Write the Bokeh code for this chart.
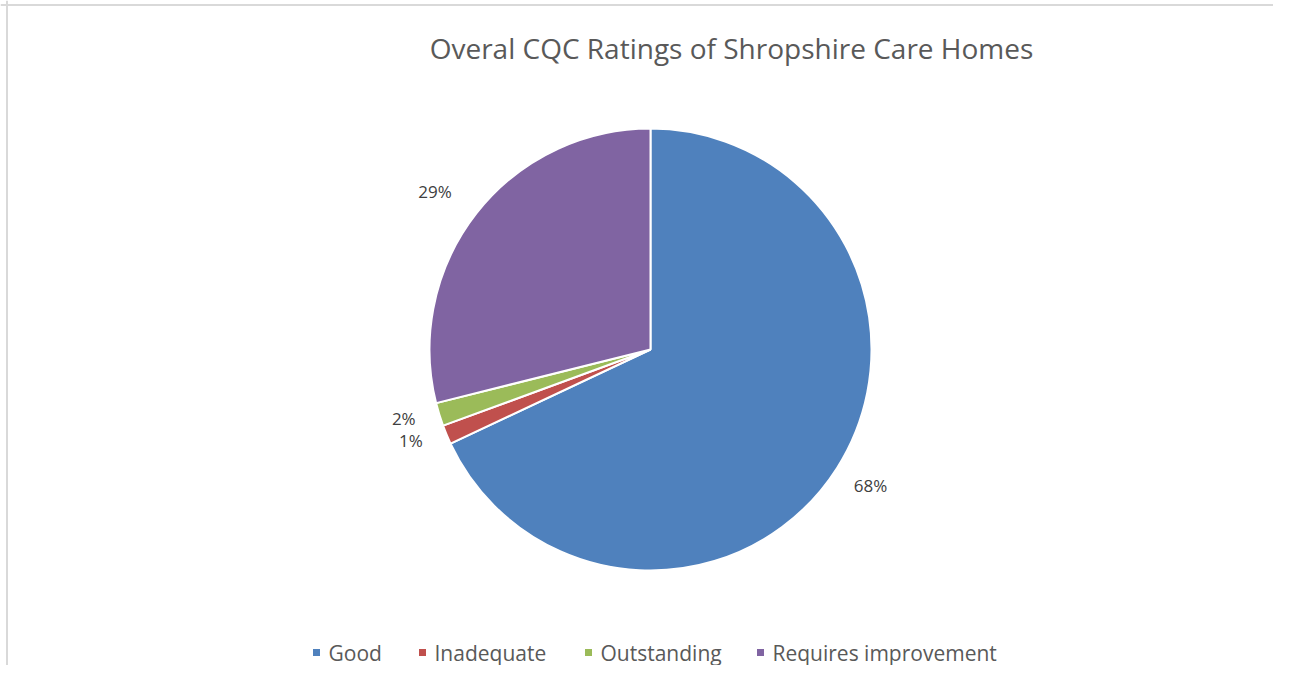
import math
from bokeh.plotting import figure
from bokeh.models import Range1d, ColumnDataSource, Span
from bokeh.core.properties import value
from bokeh.embed import file_html
from bokeh.resources import INLINE

# ---- data ----
categories = ["Good", "Inadequate", "Outstanding", "Requires improvement"]
shares = [68.0, 1.4, 1.7, 28.9]
colors = ["#4F81BD", "#C0504D", "#9BBB59", "#8064A2"]
title_text = "Overal CQC Ratings of Shropshire Care Homes"

W, H = 1273, 665
FONT = "Open Sans"
GRAY = "#595959"

p = figure(width=W, height=H, output_backend="svg", toolbar_location=None,
           x_range=Range1d(0, W), y_range=Range1d(0, H), min_border=0)
p.axis.visible = False
p.grid.visible = False
p.outline_line_color = None
p.background_fill_color = "white"
p.border_fill_color = "white"

# chart-area border (left & top)
p.add_layout(Span(location=6.5, dimension="height", line_color="#d9d9d9", line_width=2))
p.add_layout(Span(location=H - 4.5, dimension="width", line_color="#d9d9d9", line_width=2))

cx, cy, r = 650, 316, 221
total = sum(shares)
starts, ends, mids = [], [], []
cum = 0.0
for s in shares:
    f0 = cum / total
    cum += s
    f1 = cum / total
    starts.append(math.pi / 2 - f0 * 2 * math.pi)
    ends.append(math.pi / 2 - f1 * 2 * math.pi)
    mids.append(math.pi / 2 - (f0 + f1) / 2 * 2 * math.pi)

src = ColumnDataSource(dict(cat=categories, start=starts, end=ends, color=colors))
p.wedge(x=cx, y=cy, radius=r, start_angle="start", end_angle="end",
        direction="clock", fill_color="color", line_color="white", line_width=2,
        source=src)

# data labels (outside end)
lab_r = [257, 252, 255, 262]
nudge = [(3, 2), (-7, 6), (-3, 6), (-9, -3)]
lx = [cx + d * math.cos(a) + n[0] for d, a, n in zip(lab_r, mids, nudge)]
ly = [cy + d * math.sin(a) + n[1] for d, a, n in zip(lab_r, mids, nudge)]
labels = [f"{round(s / total * 100)}%" for s in shares]
p.text(x=lx, y=ly, text=labels, text_align="center", text_baseline="middle",
       text_font=value(FONT), text_font_size="17px", text_color="#404040")

# title
p.text(x=[731], y=[618], text=[title_text], text_align="center",
       text_baseline="middle", text_font=value(FONT), text_font_size="28px",
       text_color=GRAY)

# legend
leg_x = [316, 422, 588, 760]
leg_y = 13
p.scatter(x=leg_x, y=[leg_y] * 4, marker="square", size=7, color=colors, line_color=None)
p.text(x=[x + 12 for x in leg_x], y=[leg_y] * 4, text=categories, text_align="left",
       text_baseline="middle", text_font=value(FONT), text_font_size="21px",
       text_color=GRAY)

open("out.html", "w").write(file_html(p, INLINE))
